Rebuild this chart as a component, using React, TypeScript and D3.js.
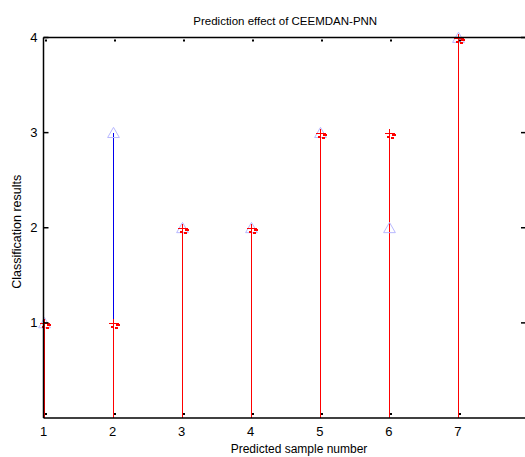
import React from "react";
import * as d3 from "d3";

const samples = [1, 2, 3, 4, 5, 6, 7];
const actual = [1, 3, 2, 2, 3, 2, 4];
const predicted = [1, 1, 2, 2, 3, 3, 4];
const xTicks = [1, 2, 3, 4, 5, 6, 7];
const yTicks = [1, 2, 3, 4];

const W = 525;
const H = 457;
const left = 43.5;
const right = 527;
const top = 37.5;
const bottom = 418;

export default function App() {
  const x = d3.scaleLinear().domain([1, 8]).range([left, right]);
  const y = d3.scaleLinear().domain([0, 4]).range([bottom, top]);
  const px = (v: number) => Math.round(x(v)) + 0.5;
  const font = "'Liberation Sans', Arial, Helvetica, sans-serif";
  const tri = d3.symbol().type(d3.symbolTriangle).size(60)();
  return (
    <svg width={W} height={H} style={{ position: "absolute", left: 0, top: 0, background: "#fff" }}>
      <rect x={0} y={0} width={W} height={H} fill="#fff" />
      {/* actual stems (blue) */}
      {samples.map((s, i) => (
        <line key={"ab" + i} x1={px(s)} x2={px(s)} y1={y(0)} y2={y(actual[i])} stroke="#0000ee" strokeWidth={1} shapeRendering="crispEdges" />
      ))}
      {/* predicted stems (red) */}
      {samples.map((s, i) => (
        <line key={"pr" + i} x1={px(s)} x2={px(s)} y1={y(0)} y2={y(predicted[i])} stroke="#ff0000" strokeWidth={1} shapeRendering="crispEdges" />
      ))}
      {/* actual markers */}
      {samples.map((s, i) => (
        <path key={"at" + i} d={tri!} transform={`translate(${px(s)},${y(actual[i]) + 1.5})`} fill="none" stroke="#b8b8ff" strokeWidth={1} />
      ))}
      {/* predicted markers */}
      {samples.map((s, i) => (
        <g key={"pp" + i} transform={`translate(${px(s)},${Math.round(y(predicted[i])) + 0.5})`} shapeRendering="crispEdges">
          <line x1={-5} x2={5} y1={0} y2={0} stroke="#ff0000" strokeWidth={1} />
          <line x1={0} x2={0} y1={-5} y2={5} stroke="#ff0000" strokeWidth={1} />
          <rect x={2} y={0.5} width={4} height={2} fill="#ff0000" />
          <rect x={-3} y={2} width={3} height={2} fill="#ff0000" />
          <rect x={1} y={3} width={3} height={2} fill="#ff0000" />
        </g>
      ))}
      {/* axes box */}
      <line x1={left} x2={right} y1={top} y2={top} stroke="#000" strokeWidth={1.5} />
      <line x1={left} x2={right} y1={bottom} y2={bottom} stroke="#000" strokeWidth={1.5} />
      <line x1={left} x2={left} y1={top} y2={bottom} stroke="#000" strokeWidth={1.5} />
      <line x1={right} x2={right} y1={top} y2={bottom} stroke="#000" strokeWidth={1.5} />
      {/* x ticks */}
      {xTicks.map((t) => (
        <g key={"xt" + t}>
          <rect x={Math.round(x(t)) + 1} y={bottom - 5} width={2} height={2} fill="#000" />
          <rect x={Math.round(x(t)) + 1} y={top + 2} width={2} height={2} fill="#000" />
          <text x={x(t)} y={bottom + 18} textAnchor="middle" fontFamily={font} fontSize={13} fill="#000">{t}</text>
        </g>
      ))}
      {/* y ticks */}
      {yTicks.map((t) => (
        <g key={"yt" + t}>
          <line x1={left} x2={left + 5} y1={y(t)} y2={y(t)} stroke="#000" strokeWidth={1.5} />
          <line x1={right - 6} x2={right} y1={y(t)} y2={y(t)} stroke="#000" strokeWidth={1.5} />
          <text x={left - 6} y={y(t) + 4.5} textAnchor="end" fontFamily={font} fontSize={13} fill="#000">{t}</text>
        </g>
      ))}
      <text x={(left + right) / 2} y={25} textAnchor="middle" fontFamily={font} fontSize={11.5} fill="#000">Prediction effect of CEEMDAN-PNN</text>
      <text x={299} y={453} textAnchor="middle" fontFamily={font} fontSize={12} fill="#000">Predicted sample number</text>
      <text transform={`translate(21,${(top + bottom) / 2 + 4}) rotate(-90)`} textAnchor="middle" fontFamily={font} fontSize={12.5} fill="#000">Classification results</text>
    </svg>
  );
}
